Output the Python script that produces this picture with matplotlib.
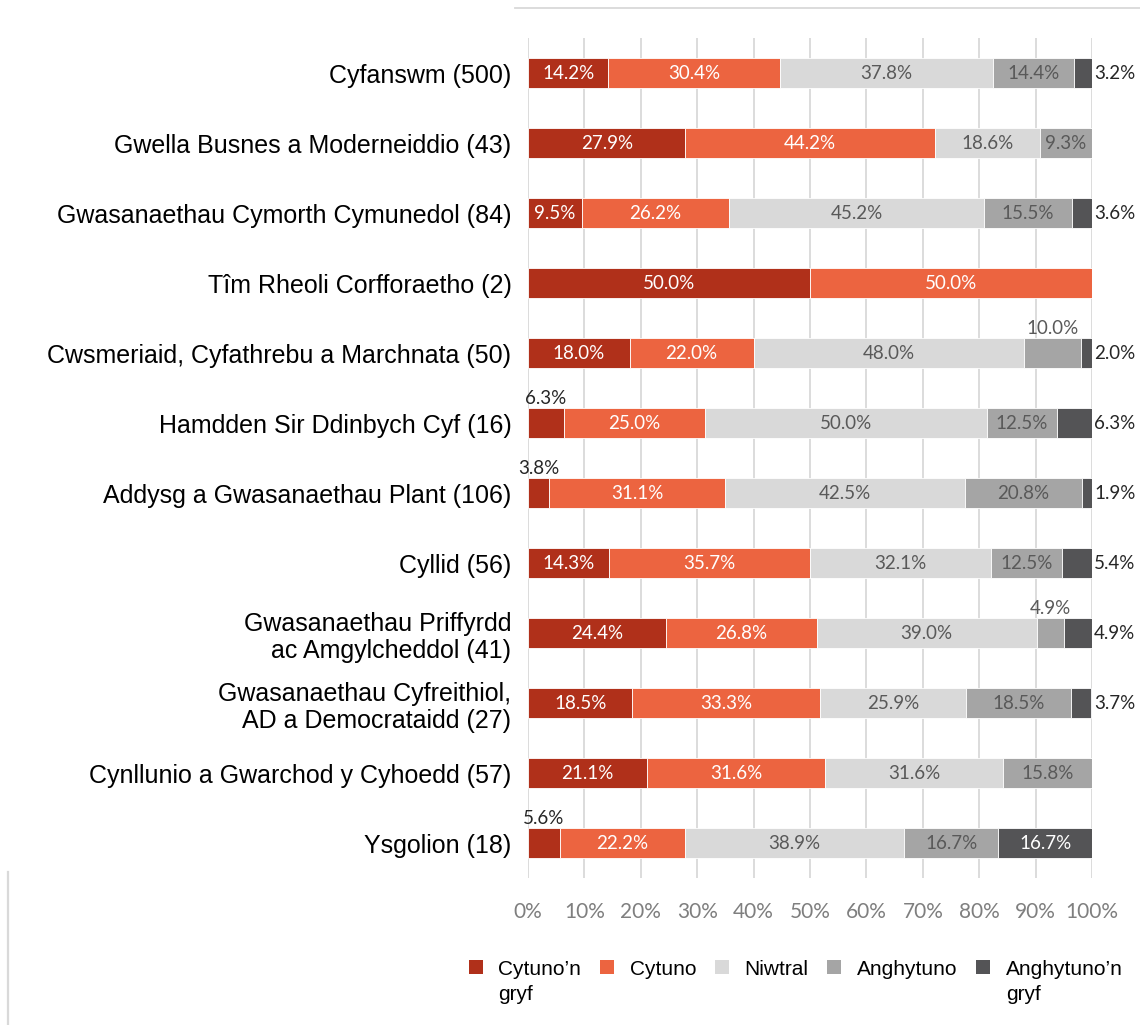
import numpy as np
import matplotlib
matplotlib.use("Agg")
import matplotlib.pyplot as plt
from matplotlib.patches import Patch
from matplotlib.lines import Line2D

# categories, top to bottom
categories = [
    "Cyfanswm (500)",
    "Gwella Busnes a Moderneiddio (43)",
    "Gwasanaethau Cymorth Cymunedol (84)",
    "Tîm Rheoli Corfforaetho (2)",
    "Cwsmeriaid, Cyfathrebu a Marchnata (50)",
    "Hamdden Sir Ddinbych Cyf (16)",
    "Addysg a Gwasanaethau Plant (106)",
    "Cyllid (56)",
    "Gwasanaethau Priffyrdd\nac Amgylcheddol (41)",
    "Gwasanaethau Cyfreithiol,\nAD a Democrataidd (27)",
    "Cynllunio a Gwarchod y Cyhoedd (57)",
    "Ysgolion (18)",
]

series_names = ["Cytuno’n\ngryf", "Cytuno", "Niwtral", "Anghytuno", "Anghytuno’n\ngryf"]

# percentages per series
cytuno_gryf = [14.2, 27.9, 9.5, 50.0, 18.0, 6.3, 3.8, 14.3, 24.4, 18.5, 21.1, 5.6]
cytuno = [30.4, 44.2, 26.2, 50.0, 22.0, 25.0, 31.1, 35.7, 26.8, 33.3, 31.6, 22.2]
niwtral = [37.8, 18.6, 45.2, 0.0, 48.0, 50.0, 42.5, 32.1, 39.0, 25.9, 31.6, 38.9]
anghytuno = [14.4, 9.3, 15.5, 0.0, 10.0, 12.5, 20.8, 12.5, 4.9, 18.5, 15.8, 16.7]
anghytuno_gryf = [3.2, 0.0, 3.6, 0.0, 2.0, 6.3, 1.9, 5.4, 4.9, 3.7, 0.0, 16.7]

xticks = [0, 10, 20, 30, 40, 50, 60, 70, 80, 90, 100]

series = [cytuno_gryf, cytuno, niwtral, anghytuno, anghytuno_gryf]
colours = ["#B0301A", "#EC6440", "#D9D9D9", "#A5A5A5", "#545456"]
text_colours = ["white", "white", "#595959", "#595959", "white"]

SMALL = 7.0  # segments narrower than this get their label outside
ABOVE_EXTRA = {(4, 3)}  # Cwsmeriaid / Anghytuno label sits above the bar

LABEL_FONT = "Lato"
LABEL_SIZE = 13.5

fig = plt.figure(figsize=(11.4, 10.25), dpi=100)
ax = fig.add_axes([0.4632, 0.1434, 0.4947, 0.8195])

y = np.arange(len(categories))
left = np.zeros(len(categories))
for i, vals in enumerate(series):
    vals = np.array(vals)
    ax.barh(y, vals, left=left, height=0.42, color=colours[i],
            edgecolor="white", linewidth=0.6, label=series_names[i], zorder=3)
    for j, v in enumerate(vals):
        if v <= 0:
            continue
        centre = left[j] + v / 2
        txt = f"{v:.1f}%"
        if i == 4 and v < SMALL:
            ax.annotate(txt, (100, y[j]), xytext=(1.5, 0), textcoords="offset points",
                        ha="left", va="center", fontsize=LABEL_SIZE, color="#262626",
                        family=LABEL_FONT)
        elif v < SMALL or (j, i) in ABOVE_EXTRA:
            ax.annotate(txt, (centre, y[j]), xytext=(0, 18), textcoords="offset points",
                        ha="center", va="center", fontsize=LABEL_SIZE,
                        color="#262626" if i < 2 else "#595959", family=LABEL_FONT)
        else:
            ax.text(centre, y[j], txt, ha="center", va="center", fontsize=LABEL_SIZE,
                    color=text_colours[i], family=LABEL_FONT, zorder=4)
    left += vals

ax.set_xlim(0, 100)
ax.set_ylim(len(categories) - 0.5, -0.5)
ax.set_xticks(xticks)
ax.set_xticklabels([f"{t}%" for t in xticks], family=LABEL_FONT, fontsize=15, color="#7F7F7F")
ax.set_yticks(y)
ax.set_yticklabels(categories, family="Liberation Sans", fontsize=18, color="black")
ax.tick_params(axis="both", length=0)
ax.tick_params(axis="y", pad=12)
ax.tick_params(axis="x", pad=17)
ax.grid(axis="x", color="#D9D9D9", linewidth=1.3, zorder=0)
ax.set_axisbelow(True)
for s in ax.spines.values():
    s.set_visible(False)

handles = [Patch(facecolor=c, edgecolor="none") for c in colours]
leg = fig.legend(handles, series_names, loc="center", bbox_to_anchor=(0.698, 0.042),
                 ncol=5, frameon=False, handlelength=0.67, handleheight=0.67,
                 handletextpad=0.75, columnspacing=0.9,
                 prop={"family": "Liberation Sans", "size": 15})
for t in leg.get_texts():
    t.set_linespacing(1.4)
# square sits next to the first line of two-line labels
leg._legend_handle_box.align = "top"
for col in leg._legend_handle_box.get_children():
    for item in col.get_children():
        item.align = "top"

# frame remnants from the original screenshot
fig.add_artist(Line2D([0.452, 1.0], [0.992, 0.992], color="#D9D9D9", linewidth=1.3))
fig.add_artist(Line2D([0.007, 0.007], [0.0, 0.149], color="#D9D9D9", linewidth=1.6))

fig.savefig("out.png", dpi=100)
